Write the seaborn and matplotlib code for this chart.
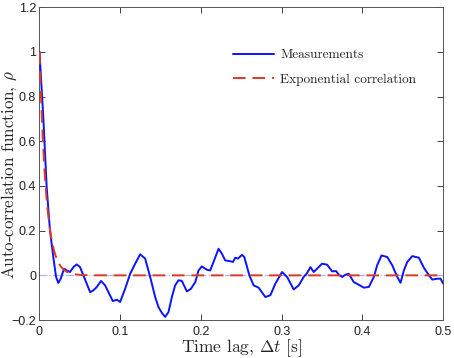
import numpy as np
import pandas as pd
import matplotlib
matplotlib.use("Agg")
import matplotlib.pyplot as plt
import seaborn as sns
from matplotlib.ticker import FuncFormatter, MultipleLocator

lag = [0.0, 0.0047, 0.0089, 0.013, 0.0171, 0.0205, 0.0233, 0.0263, 0.0304, 0.0337,
       0.0378, 0.042, 0.0461, 0.0502, 0.0543, 0.0585, 0.0627, 0.0668, 0.071, 0.0763,
       0.0813, 0.0854, 0.0908, 0.0958, 0.0999, 0.1061, 0.1123, 0.1185, 0.1247, 0.1309,
       0.1371, 0.1433, 0.1474, 0.1516, 0.1557, 0.1598, 0.164, 0.1680, 0.1722, 0.1764,
       0.1826, 0.1876, 0.193, 0.197, 0.2012, 0.2074, 0.2115, 0.2156, 0.2218, 0.226,
       0.230, 0.2364, 0.2397, 0.2426, 0.2459, 0.2509, 0.2537, 0.260, 0.2653, 0.2715,
       0.2798, 0.286, 0.2922, 0.3005, 0.3067, 0.3149, 0.3211, 0.3273, 0.3315, 0.3356,
       0.3397, 0.3439, 0.350, 0.3563, 0.3625, 0.3675, 0.3707, 0.375, 0.379, 0.3831,
       0.3893, 0.3955, 0.4017, 0.408, 0.4142, 0.4183, 0.4237, 0.4308, 0.437, 0.4432,
       0.4473, 0.4514, 0.4556, 0.4618, 0.470, 0.4762, 0.4824, 0.4866, 0.4928, 0.4969,
       0.500]
rho = [1.0, 0.708, 0.395, 0.20, 0.082, -0.007, -0.034, -0.015, 0.030, 0.022,
       0.015, 0.037, 0.049, 0.037, 0.0, -0.037, -0.075, -0.067, -0.052, -0.025,
       -0.045, -0.075, -0.115, -0.109, -0.119, -0.060, 0.007, 0.052, 0.094, 0.075,
       -0.007, -0.097, -0.142, -0.168, -0.186, -0.164, -0.097, -0.045, -0.022, -0.025,
       -0.072, -0.060, -0.030, 0.022, 0.040, 0.025, 0.022, 0.060, 0.119, 0.097,
       0.067, 0.063, 0.060, 0.079, 0.075, 0.092, 0.082, 0.0, -0.045, -0.055,
       -0.097, -0.089, -0.037, 0.015, -0.007, -0.063, -0.045, -0.007, 0.010, 0.037,
       0.015, 0.030, 0.052, 0.048, 0.018, 0.019, 0.003, -0.007, 0.003, 0.007,
       -0.030, -0.042, -0.055, -0.052, -0.007, 0.045, 0.089, 0.082, 0.045, -0.007,
       -0.033, 0.022, 0.060, 0.086, 0.079, 0.034, 0.0, -0.019, -0.015, -0.015,
       -0.037]

# fitted exponential model, decay time in seconds
tau = 0.0082
fit_lag = np.linspace(0, 0.5, 500)

def main():
    sns.set_style("ticks")
    plt.rcParams["font.family"] = ["Liberation Sans", "DejaVu Sans"]
    plt.rcParams["mathtext.fontset"] = "cm"

    meas = pd.DataFrame({"lag": lag, "rho": rho})
    fit = pd.DataFrame({"lag": fit_lag, "rho": np.exp(-fit_lag / tau)})

    fig = plt.figure(figsize=(4.54, 3.58), dpi=100)
    ax = fig.add_axes([0.087, 0.106, 0.889, 0.874])

    ax.axhline(0, color="#a9b4ff", linestyle="-.", linewidth=0.9, zorder=1)
    sns.lineplot(data=meas, x="lag", y="rho", ax=ax, color="#0a14ff",
                 linewidth=1.4, label="Measurements", zorder=3,
                 solid_joinstyle="round")
    sns.lineplot(data=fit, x="lag", y="rho", ax=ax, color="#dd3a22",
                 linewidth=1.4, linestyle=(0, (6.5, 3.5)),
                 label="Exponential correlation", zorder=4)

    ax.set_xlim(0, 0.5)
    ax.set_ylim(-0.2, 1.2)
    ax.xaxis.set_major_locator(MultipleLocator(0.1))
    ax.yaxis.set_major_locator(MultipleLocator(0.2))
    fmt = FuncFormatter(lambda v, p: ("%g" % round(v, 2)).replace("-", "\u2212"))
    ax.xaxis.set_major_formatter(fmt)
    ax.yaxis.set_major_formatter(fmt)
    ax.tick_params(direction="in", top=True, right=True, length=4,
                   width=0.6, labelsize=9, pad=4, colors="#222222")
    ax.tick_params(axis="y", pad=2.5)
    for s in ax.spines.values():
        s.set_linewidth(0.7)
        s.set_color("#555555")

    # LaTeX-like serif for the labels and legend
    serif = ["cmr10", "Liberation Serif", "DejaVu Serif"]
    ax.set_xlabel(r"Time lag, $\Delta t$ [s]", family=serif, fontsize=12.5, labelpad=0)
    ax.set_ylabel(r"Auto-correlation function, $\rho$", family=serif, fontsize=12.2)
    ax.yaxis.set_label_coords(-0.051, 0.465)

    ax.legend(loc="upper right", bbox_to_anchor=(0.934, 0.866), frameon=False,
              prop={"family": serif, "size": 9.6}, handlelength=3.1,
              labelspacing=0.9, handletextpad=0.45, borderpad=0,
              borderaxespad=0)

    fig.savefig("out.png", dpi=100)

if __name__ == "__main__":
    main()
